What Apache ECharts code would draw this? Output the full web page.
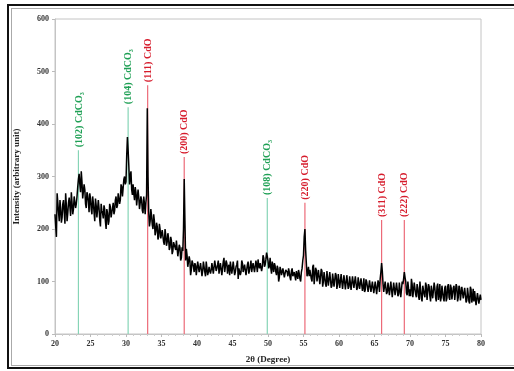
<!DOCTYPE html>
<html>
<head>
<meta charset="utf-8">
<script src="https://cdn.jsdelivr.net/npm/echarts@6/dist/echarts.min.js"></script>
<style>
html,body{margin:0;padding:0;background:#fff;}
#chart{width:514px;height:371px;}
</style>
</head>
<body>
<div id="chart"></div>
<script>
// 2θ scan: start angle and step (degrees)
var startAngle = 20;
var stepAngle = 0.2;
// Intensity readings (arbitrary unit) at 20.0, 20.2, ... 80.0
var intensity = [
  228,185,250,215,240, 222,255,210,245,230, 260,225,250,238,265, 248,280,305,270,290,
  255,275,240,265,232, 258,228,250,215,245, 225,240,205,235,220, 238,200,230,215,242,
  225,250,235,262,245, 270,255,280,265,300, 290,375,320,300,275, 285,255,270,245,260,
  240,255,230,248,250, 430,232,215,225,200, 215,195,205,185,200, 180,195,170,188,175,
  182,165,178,158,170, 160,175,150,165,145, 158,295,140,150,128, 140,122,135,118,130,
  125,140,115,132,120, 128,110,135,118,130, 122,138,112,130,125, 140,118,132,125,145,
  120,135,128,112,138, 125,140,118,132,105, 128,118,135,120,130, 115,138,122,140,128,
  135,118,130,142,125, 138,128,145,132,155, 140,130,125,138,118, 130,112,125,108,122,
  115,128,105,120,110, 118,102,125,108,115, 120,105,115,100,125, 150,200,135,118,110,
  125,100,132,98,122, 98,125,92,120,100, 118,90,122,95,115, 92,118,88,112,95,
  115,90,112,85,110, 88,115,90,108,84, 110,86,112,88,106, 84,108,90,80,104,
  98,78,104,82,100, 80,100,78,96,105, 135,96,78,100,80, 98,75,100,72,96,
  74,98,76,96,72, 95,118,100,74,100, 85,105,70,98,75, 95,72,100,68,92,
  75,98,65,95,72, 92,68,98,70,90, 65,95,70,90,62, 92,68,95,65,88,
  68,92,62,90,70, 88,62,92,66,85, 64,90,58,85,68, 62,85,52,80,60,
  65
];
// Intensity readings at the half steps 20.1, 20.3, ... 79.9
var intensityMid = [
  205,268,232,255,212, 248,232,268,215,250, 242,270,228,262,240, 262,295,285,310,258,
  285,248,270,252,268, 238,262,232,258,222, 255,218,248,230,245, 215,238,208,248,222,
  240,228,255,240,268, 248,285,262,295,285, 340,350,285,310,265, 268,280,245,275,238,
  262,235,262,228,265, 300,205,238,208,228, 188,212,180,210,182, 198,175,200,168,192,
  160,185,152,175,165, 178,148,170,140,165, 200,215,162,128,148, 112,140,128,135,112,
  138,118,135,110,138, 118,138,112,128,115, 135,115,140,120,132, 115,135,112,138,118,
  140,115,132,138,115, 138,112,128,140,125, 112,140,118,132,112, 132,115,130,118,135,
  118,140,118,130,135, 120,150,128,142,148, 125,145,115,128,135, 118,130,100,128,112,
  125,108,122,118,125, 108,120,110,118,102, 112,122,105,118,140, 185,160,110,128,122,
  105,128,95,126,100, 122,95,124,90,118, 95,120,92,118,88, 115,90,116,86,114,
  88,114,86,112,85, 112,86,110,84,110, 88,110,84,108,86, 106,82,106,84,100,
  80,102,80,100,78, 100,76,102,80,118, 120,80,100,76,98, 74,100,70,98,74,
  98,72,98,70,100, 105,108,78,100,72, 72,95,68,100,70, 88,65,98,62,95,
  70,92,68,90,62, 95,70,88,62,96, 75,62,92,68,88, 62,90,70,94,66,
  88,65,95,62,92, 64,90,68,88,60, 88,62,90,60,86, 82,55,78,58,75
];
// Reference reflections
var refLabels = ['(102) CdCO\u2083','(104) CdCO\u2083','(111) CdO','(200) CdO','(108) CdCO\u2083','(220) CdO','(311) CdO','(222) CdO'];
var refAngles = [23.3, 30.3, 33.05, 38.2, 49.9, 55.2, 66.0, 69.2];
var refHeights = [350, 432, 474, 337, 259, 250, 217, 217];
var refPhase = ['CdCO3','CdCO3','CdO','CdO','CdCO3','CdO','CdO','CdO'];
// Axis ticks
var xTicks = [20,25,30,35,40,45,50,55,60,65,70,75,80];
var yTicks = [0,100,200,300,400,500,600];

var trace = [];
intensity.forEach(function(v, i){
  trace.push([+(startAngle + i*stepAngle).toFixed(2), v]);
  if (i < intensityMid.length) trace.push([+(startAngle + (i+0.5)*stepAngle).toFixed(2), intensityMid[i]]);
});
var refData = refAngles.map(function(a, i){ return [a, refHeights[i], i]; });

var lineCol = {CdCO3:'#86d4b6', CdO:'#ec6a78'};
var textCol = {CdCO3:'#1fa055', CdO:'#d61c2c'};

var chart = echarts.init(document.getElementById('chart'), null, {renderer:'canvas'});
var serif = '"Liberation Serif","Times New Roman",serif';
chart.setOption({
  animation:false,
  backgroundColor:'#fff',
  graphic:[
    {type:'line', shape:{x1:8,y1:5,x2:514,y2:5}, style:{stroke:'#111',lineWidth:2}},
    {type:'line', shape:{x1:8,y1:4,x2:8,y2:369}, style:{stroke:'#111',lineWidth:2}},
    {type:'line', shape:{x1:7,y1:368,x2:514,y2:368}, style:{stroke:'#111',lineWidth:2}},
    {type:'line', shape:{x1:11,y1:8.5,x2:514,y2:8.5}, style:{stroke:'#aaa',lineWidth:1}},
    {type:'line', shape:{x1:11.5,y1:8,x2:11.5,y2:365},style:{stroke:'#aaa',lineWidth:1}},
    {type:'line', shape:{x1:11,y1:365.5,x2:514,y2:365.5},style:{stroke:'#aaa',lineWidth:1}}
  ],
  grid:{left:55, right:33, top:19, bottom:37, show:true, borderColor:'#c4c4c4', borderWidth:1},
  xAxis:{
    type:'value', min:20, max:80, interval:5,
    name:'2\u03b8 (Degree)', nameLocation:'middle', nameGap:21,
    nameTextStyle:{fontFamily:serif, fontWeight:'bold', fontSize:9, color:'#222'},
    axisLine:{show:true, lineStyle:{color:'#c4c4c4'}},
    axisTick:{show:true, length:3, lineStyle:{color:'#bbb'}},
    minorTick:{show:true, splitNumber:5, length:2, lineStyle:{color:'#ccc'}},
    splitLine:{show:false},
    axisLabel:{fontFamily:serif, fontWeight:'bold', fontSize:8, color:'#333', margin:6,
      formatter:function(v){ return xTicks.indexOf(v) >= 0 ? String(v) : ''; }}
  },
  yAxis:{
    type:'value', min:0, max:600, interval:100,
    name:'Intensity (arbitrary unit)', nameLocation:'middle', nameGap:34,
    nameTextStyle:{fontFamily:serif, fontWeight:'bold', fontSize:9, color:'#222'},
    axisLine:{show:true, lineStyle:{color:'#c4c4c4'}},
    axisTick:{show:true, length:3, lineStyle:{color:'#bbb'}},
    splitLine:{show:false},
    axisLabel:{fontFamily:serif, fontWeight:'bold', fontSize:8, color:'#333', margin:6,
      formatter:function(v){ return yTicks.indexOf(v) >= 0 ? String(v) : ''; }}
  },
  series:[
    {
      type:'custom', z:1, data:refData,
      renderItem:function(params, api){
        var i = api.value(2);
        var p0 = api.coord([api.value(0), 0]);
        var p1 = api.coord([api.value(0), api.value(1)]);
        var ph = refPhase[i];
        return {type:'group', children:[
          {type:'line', shape:{x1:p0[0], y1:p0[1], x2:p1[0], y2:p1[1]}, style:{stroke:lineCol[ph], lineWidth:1.2}},
          {type:'text', x:p1[0]+0.5, y:p1[1]-3, rotation:Math.PI/2,
            style:{text:refLabels[i], fill:textCol[ph], font:'bold 10px ' + serif, align:'left', verticalAlign:'middle'}}
        ]};
      }
    },
    {
      type:'line', z:2, data:trace, showSymbol:false, symbol:'none',
      lineStyle:{color:'#000', width:1.5}
    }
  ]
});
</script>
</body>
</html>
